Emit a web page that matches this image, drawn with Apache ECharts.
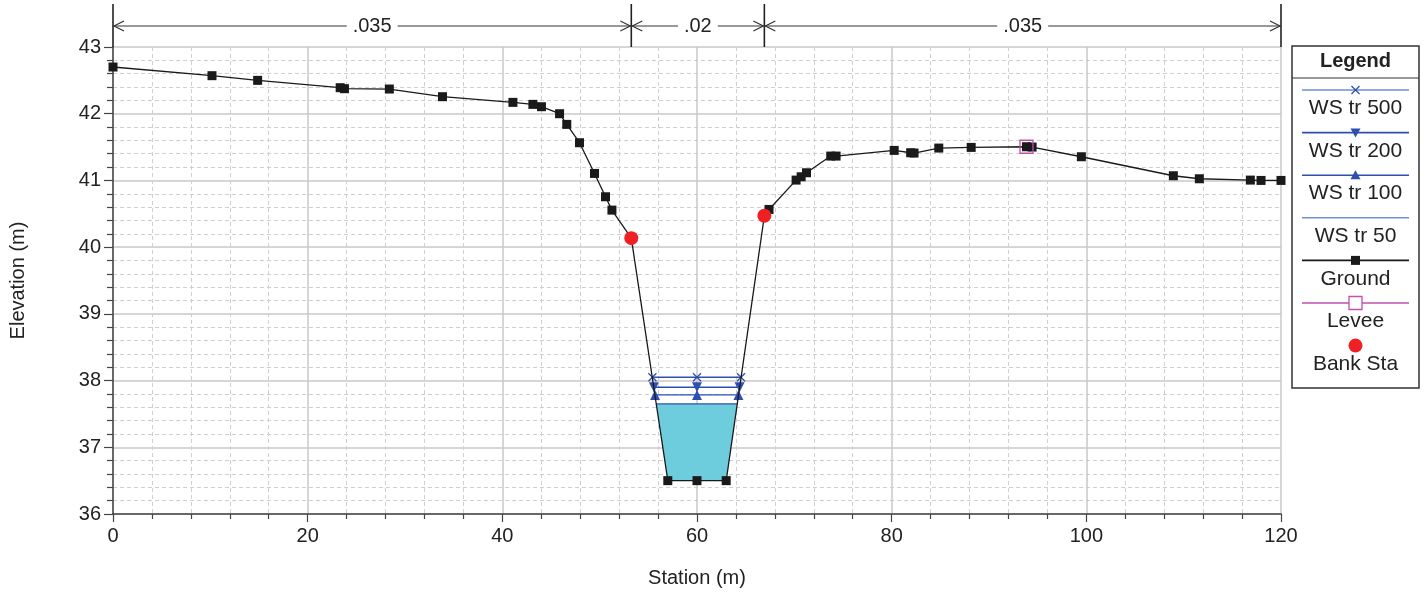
<!DOCTYPE html>
<html><head><meta charset="utf-8">
<script src="https://cdn.jsdelivr.net/npm/echarts@6/dist/echarts.min.js"></script>
<style>html,body{margin:0;padding:0;background:#fff}#c{width:1428px;height:593px}</style>
</head><body><div id="c"></div>
<script>
// ---- data ----
const groundStation = [0, 10.17, 14.86, 23.34, 23.78, 28.39, 33.85, 41.09, 43.14, 44.02, 45.88, 46.62, 47.93, 49.47, 50.6, 51.26, 53.25, 57.0, 60.0, 63.0, 66.92, 67.4, 70.18, 70.7, 71.25, 73.74, 74.29, 80.26, 81.95, 82.3, 84.84, 88.17, 93.85, 94.43, 99.49, 108.94, 111.61, 116.85, 117.95, 120];
const groundElev = [42.70, 42.57, 42.50, 42.39, 42.375, 42.37, 42.255, 42.17, 42.14, 42.105, 42.0, 41.84, 41.565, 41.105, 40.755, 40.555, 40.135, 36.5, 36.5, 36.5, 40.47, 40.565, 41.005, 41.055, 41.115, 41.365, 41.365, 41.45, 41.415, 41.41, 41.485, 41.495, 41.505, 41.50, 41.355, 41.07, 41.025, 41.005, 41.0, 41.0];
const bankStation = [53.25, 66.92];
const bankElev = [40.135, 40.47];
const leveeStation = [93.85];
const leveeElev = [41.505];
const ws500Station = [55.42, 60, 64.52];
const ws500Elev = [38.05, 38.05, 38.05];
const ws200Station = [55.57, 60, 64.37];
const ws200Elev = [37.90, 37.90, 37.90];
const ws100Station = [55.69, 60, 64.26];
const ws100Elev = [37.785, 37.785, 37.785];
const ws50Station = [55.83, 64.13, 63.0, 57.0];
const ws50Elev = [37.65, 37.65, 36.5, 36.5];
const nValues = ['.035', '.02', '.035'];
const nBreaks = [0, 53.25, 66.92, 120];
const legendNames = ['WS tr 500', 'WS tr 200', 'WS tr 100', 'WS tr 50', 'Ground', 'Levee', 'Bank Sta'];
const xTicks = [0, 20, 40, 60, 80, 100, 120];
const yTicks = [36, 37, 38, 39, 40, 41, 42, 43];

// ---- styles ----
const FONT = '"Liberation Sans", Arial, sans-serif';
const TXT = '#222';
const WS_DARK = '#2f4fae';
const WS_LIGHT = '#6f8fd0';
const GROUND = '#1a1a1a';
const LEVEE = '#c050b0';
const BANK = '#ee2024';
const FILL = '#6ecddd';
const xMark = 'path://M0,0L10,10M10,0L0,10';

function pairs(xs, ys) { return xs.map((x, i) => [x, ys[i]]); }

const chart = echarts.init(document.getElementById('c'), null, {renderer: 'canvas'});

const option = {
  animation: false,
  backgroundColor: '#fff',
  grid: {left: 113, right: 147, top: 47, bottom: 78, containLabel: false},
  xAxis: {
    type: 'value', min: xTicks[0], max: xTicks[xTicks.length - 1], interval: 20,
    name: 'Station (m)', nameLocation: 'middle', nameGap: 54,
    nameTextStyle: {fontFamily: FONT, fontSize: 20, color: TXT},
    axisLine: {show: true, onZero: false, lineStyle: {color: '#444', width: 1.5}},
    axisTick: {show: true, inside: false, length: 8, lineStyle: {color: '#444', width: 1.2}},
    minorTick: {show: true, splitNumber: 5, length: 5, lineStyle: {color: '#444', width: 1.2}},
    axisLabel: {fontFamily: FONT, fontSize: 20, color: TXT, margin: 12},
    splitLine: {show: true, lineStyle: {color: '#c8c8c8', width: 1.5}},
    minorSplitLine: {show: true, lineStyle: {color: '#cfcfcf', width: 1, type: [4, 3]}}
  },
  yAxis: {
    type: 'value', min: yTicks[0], max: yTicks[yTicks.length - 1], interval: 1,
    name: 'Elevation (m)', nameLocation: 'middle', nameGap: 85, nameRotate: 90,
    nameTextStyle: {fontFamily: FONT, fontSize: 20, color: TXT},
    axisLine: {show: true, onZero: false, lineStyle: {color: '#444', width: 1.5}},
    axisTick: {show: true, inside: false, length: 9, lineStyle: {color: '#444', width: 1.2}},
    minorTick: {show: true, splitNumber: 5, length: 6, lineStyle: {color: '#444', width: 1.2}},
    axisLabel: {fontFamily: FONT, fontSize: 20, color: TXT, margin: 12},
    splitLine: {show: true, lineStyle: {color: '#c8c8c8', width: 1.5}},
    minorSplitLine: {show: true, lineStyle: {color: '#cfcfcf', width: 1, type: [4, 3]}}
  },
  series: [
    {
      name: 'WS tr 50 fill', type: 'custom', z: 1,
      data: [0],
      renderItem: function (params, api) {
        const pts = pairs(ws50Station, ws50Elev).map(p => api.coord(p));
        return {type: 'polygon', shape: {points: pts}, style: {fill: FILL, stroke: null}};
      },
      silent: true
    },
    {
      name: 'WS tr 50', type: 'line', z: 3, data: pairs(ws50Station.slice(0, 2), ws50Elev.slice(0, 2)),
      showSymbol: false, symbol: 'none', lineStyle: {color: WS_DARK, width: 1.3}
    },
    {
      name: 'WS tr 100', type: 'line', z: 3, data: pairs(ws100Station, ws100Elev),
      symbol: 'triangle', symbolSize: 10, lineStyle: {color: WS_DARK, width: 1.3},
      itemStyle: {color: WS_DARK}
    },
    {
      name: 'WS tr 200', type: 'line', z: 3, data: pairs(ws200Station, ws200Elev),
      symbol: 'triangle', symbolRotate: 180, symbolSize: 10, lineStyle: {color: WS_DARK, width: 1.3},
      itemStyle: {color: WS_DARK}
    },
    {
      name: 'WS tr 500', type: 'line', z: 3, data: pairs(ws500Station, ws500Elev),
      symbol: xMark, symbolSize: 8, lineStyle: {color: WS_DARK, width: 1.3},
      itemStyle: {color: 'none', borderColor: WS_DARK, borderWidth: 1.3}
    },
    {
      name: 'Ground', type: 'line', z: 4, data: pairs(groundStation, groundElev),
      symbol: 'rect', symbolSize: 9, lineStyle: {color: GROUND, width: 1.3},
      itemStyle: {color: GROUND}
    },
    {
      name: 'Levee', type: 'scatter', z: 5, data: pairs(leveeStation, leveeElev),
      symbol: 'rect', symbolSize: 13,
      itemStyle: {color: 'rgba(0,0,0,0)', borderColor: LEVEE, borderWidth: 1.3, opacity: 1}
    },
    {
      name: 'Bank Sta', type: 'scatter', z: 6, data: pairs(bankStation, bankElev),
      symbol: 'circle', symbolSize: 14, itemStyle: {color: BANK, borderWidth: 0, opacity: 1}
    }
  ]
};
chart.setOption(option);

// ---- n-value annotation above plot & legend box ----
const g = [];
const topY = 47, arrowY = 26, sepTop = 4;
const sepX = nBreaks.map(s => chart.convertToPixel({xAxisIndex: 0}, s));
sepX.forEach(x => {
  g.push({type: 'line', shape: {x1: x, y1: sepTop, x2: x, y2: topY}, style: {stroke: '#222', lineWidth: 1.6}, z: 10});
});
for (let i = 0; i < nValues.length; i++) {
  const a = sepX[i], b = sepX[i + 1];
  g.push({type: 'line', shape: {x1: a, y1: arrowY, x2: b, y2: arrowY}, style: {stroke: '#333', lineWidth: 1.2}, z: 10});
  g.push({type: 'polyline', shape: {points: [[a + 11, arrowY - 5], [a + 1, arrowY], [a + 11, arrowY + 5]]}, style: {stroke: '#333', lineWidth: 1.2, fill: null}, z: 11});
  g.push({type: 'polyline', shape: {points: [[b - 11, arrowY - 5], [b - 1, arrowY], [b - 11, arrowY + 5]]}, style: {stroke: '#333', lineWidth: 1.2, fill: null}, z: 11});
  g.push({type: 'text', x: (a + b) / 2, y: arrowY, z: 12,
    style: {text: nValues[i], font: '20px ' + FONT, fill: TXT, align: 'center', verticalAlign: 'middle',
      backgroundColor: '#fff', padding: [0, 6, 0, 6]}});
}

// legend box
const LX = 1292, LY = 46, LW = 127, LH = 342, LC = LX + LW / 2;
g.push({type: 'rect', shape: {x: LX, y: LY, width: LW, height: LH}, style: {fill: '#fff', stroke: '#333', lineWidth: 1.5}, z: 20});
g.push({type: 'line', shape: {x1: LX, y1: 78, x2: LX + LW, y2: 78}, style: {stroke: '#333', lineWidth: 1.2}, z: 21});
g.push({type: 'text', x: LC, y: 61, z: 22, style: {text: 'Legend', font: 'bold 20px ' + FONT, fill: TXT, align: 'center', verticalAlign: 'middle'}});
const step = 42.6, y0 = 90, lx1 = 1302, lx2 = 1409;
const legColors = [WS_LIGHT, WS_DARK, WS_DARK, WS_LIGHT, GROUND, LEVEE, null];
legendNames.forEach((name, i) => {
  const ly = y0 + i * step;
  if (legColors[i]) {
    g.push({type: 'line', shape: {x1: lx1, y1: ly, x2: lx2, y2: ly}, style: {stroke: legColors[i], lineWidth: 1.6}, z: 21});
  }
  if (i === 0) {
    g.push({type: 'line', shape: {x1: LC - 4, y1: ly - 4, x2: LC + 4, y2: ly + 4}, style: {stroke: WS_DARK, lineWidth: 1.3}, z: 22});
    g.push({type: 'line', shape: {x1: LC + 4, y1: ly - 4, x2: LC - 4, y2: ly + 4}, style: {stroke: WS_DARK, lineWidth: 1.3}, z: 22});
  } else if (i === 1) {
    g.push({type: 'polygon', shape: {points: [[LC - 5, ly - 4], [LC + 5, ly - 4], [LC, ly + 5]]}, style: {fill: WS_DARK}, z: 22});
  } else if (i === 2) {
    g.push({type: 'polygon', shape: {points: [[LC - 5, ly + 4], [LC + 5, ly + 4], [LC, ly - 5]]}, style: {fill: WS_DARK}, z: 22});
  } else if (i === 4) {
    g.push({type: 'rect', shape: {x: LC - 4.5, y: ly - 4.5, width: 9, height: 9}, style: {fill: GROUND}, z: 22});
  } else if (i === 5) {
    g.push({type: 'rect', shape: {x: LC - 6.5, y: ly - 6.5, width: 13, height: 13}, style: {fill: '#fff', stroke: LEVEE, lineWidth: 1.3}, z: 22});
  } else if (i === 6) {
    g.push({type: 'circle', shape: {cx: LC, cy: ly, r: 7}, style: {fill: BANK}, z: 22});
  }
  g.push({type: 'text', x: LC, y: ly + 18.5, z: 22, style: {text: name, font: '21px ' + FONT, fill: TXT, align: 'center', verticalAlign: 'middle'}});
});
chart.setOption({graphic: g});
</script>
</body></html>
